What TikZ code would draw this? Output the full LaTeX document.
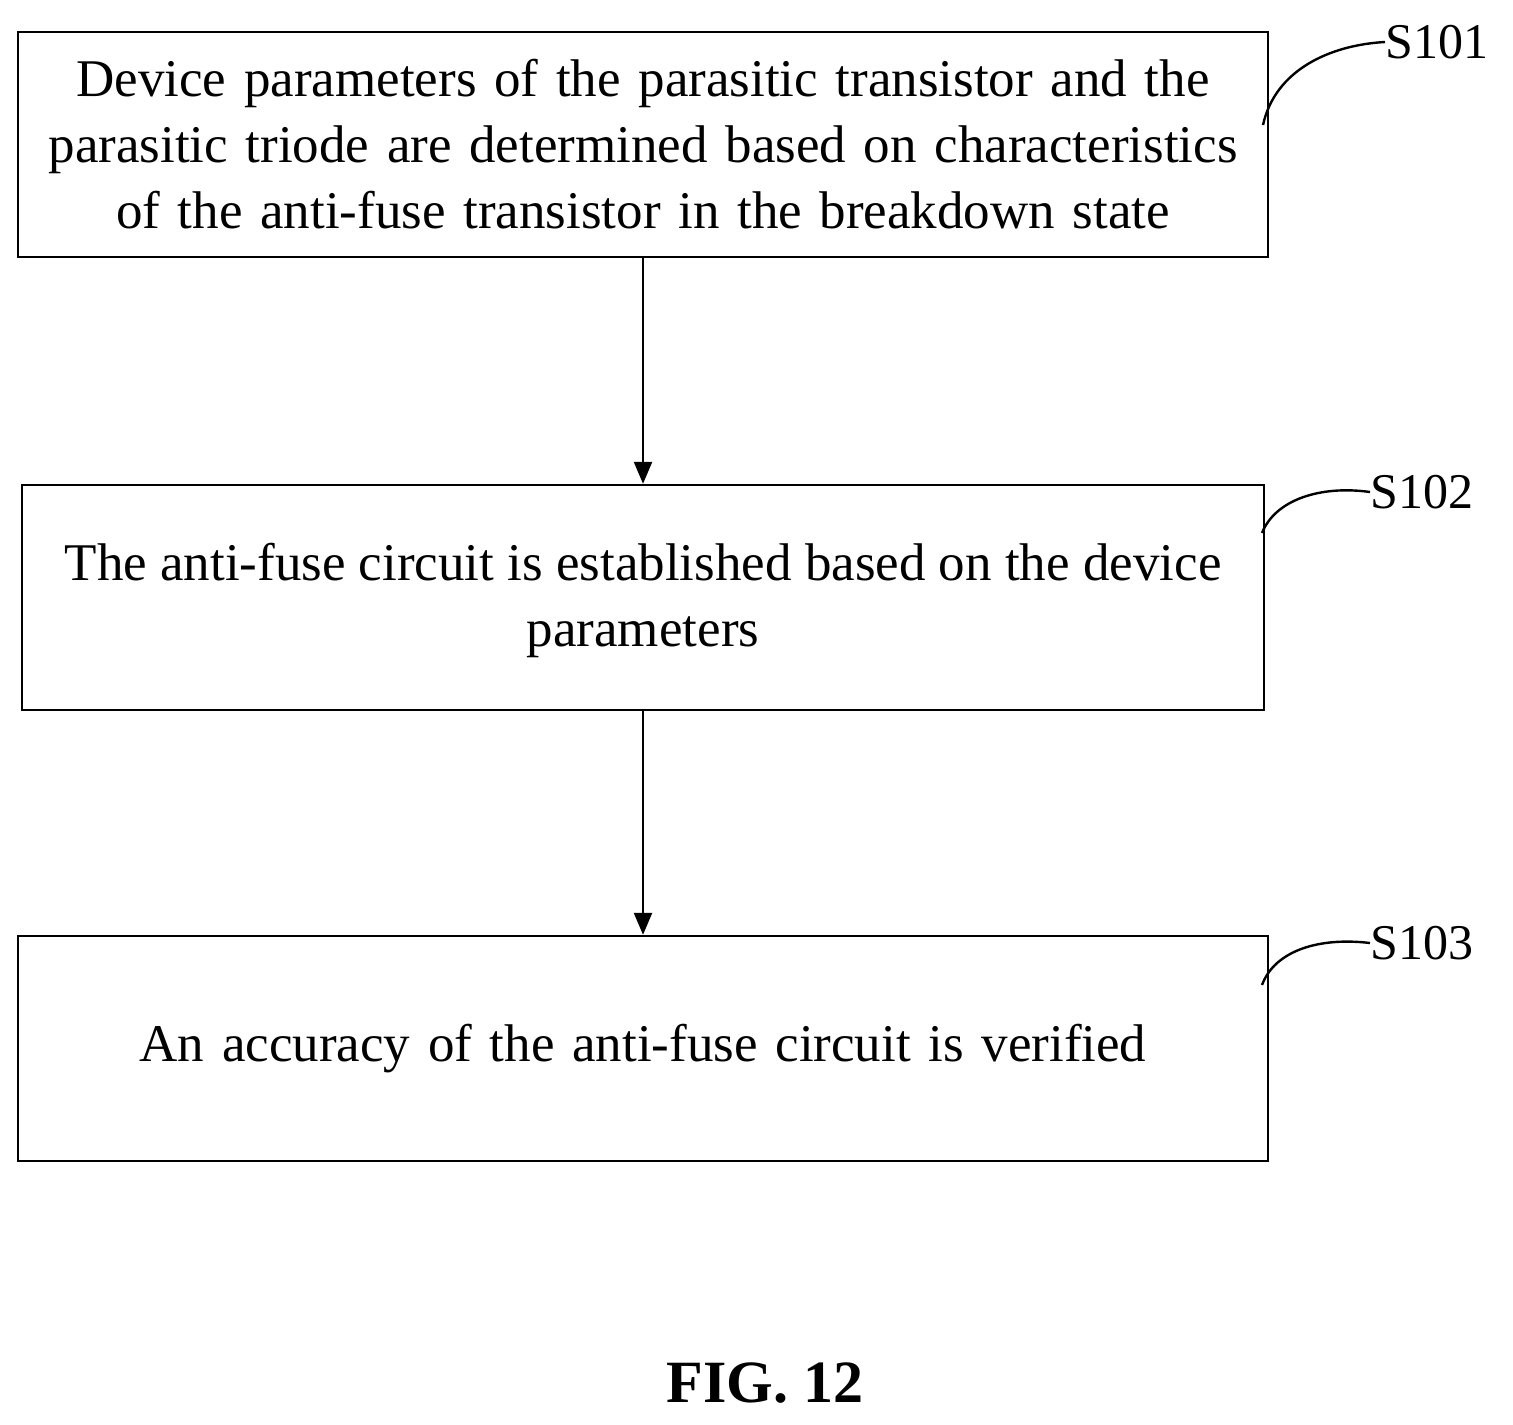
\documentclass[tikz,border=0pt]{standalone}
\usepackage{fontspec}
\setmainfont{Liberation Serif}
\usetikzlibrary{arrows.meta}
\begin{document}
\begin{tikzpicture}[x=0.5pt,y=-0.5pt,
  box/.style={draw,line width=1.2pt,minimum width=621pt,minimum height=112.5pt,align=center,text width=625pt,font=\fontsize{26.5}{33}\selectfont,inner sep=0pt},
  lab/.style={font=\fontsize{25}{28}\selectfont,anchor=west,inner sep=0pt},
  arr/.style={-{Triangle[length=11pt,width=9pt]},line width=1.2pt},
  lead/.style={line width=1.2pt}]
\useasboundingbox (0,0) rectangle (1513,1424);
\node[box] (b1) at (643,144.5) {Device parameters of the parasitic transistor and the\\parasitic triode are determined based on characteristics\\of the anti-fuse transistor in the breakdown state};
\node[draw,line width=1.2pt,minimum width=621pt,minimum height=112.5pt,inner sep=0pt] (b2) at (643,597.5) {};
\node[font=\fontsize{26.5}{33}\selectfont,align=center,inner sep=0pt] (t2) at (643,600) {The anti-fuse circuit is established based on the device\\parameters};
\node[box] (b3) at (643,1048.5) {\raisebox{-4pt}{An accuracy of the anti-fuse circuit is verified}};
\draw[arr] (b1.south) -- (b2.north);
\draw[arr] (b2.south) -- (b3.north);
\node[lab] (l1) at (1385,42) {S101};
\node[lab] (l2) at (1370,492) {S102};
\node[lab] (l3) at (1370,943) {S103};
\draw[lead] (1263,125) .. controls (1275,70) and (1330,45) .. (l1.west);
\draw[lead] (1262,533) .. controls (1275,500) and (1320,485) .. (l2.west);
\draw[lead] (1262,985) .. controls (1275,950) and (1320,937) .. (l3.west);
\node[font=\fontsize{30}{34}\selectfont\bfseries] (fig) at (765,1383) {FIG. 12};
\end{tikzpicture}
\end{document}
